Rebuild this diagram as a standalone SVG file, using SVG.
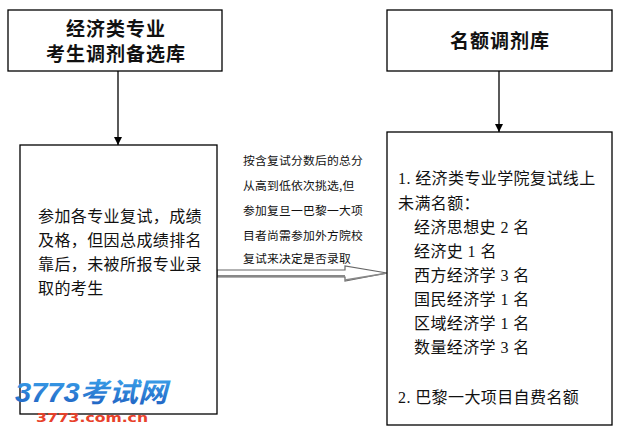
<svg xmlns="http://www.w3.org/2000/svg" width="620" height="440" viewBox="0 0 620 440">
<defs>
<style>
.box{fill:#fff;stroke:#000;stroke-width:1.3}
.title{font-family:"Noto Sans CJK SC","Liberation Sans",sans-serif;font-size:19px;font-weight:bold;fill:#111;text-anchor:middle;letter-spacing:1px}
.body{font-family:"Liberation Serif","Noto Sans CJK SC",serif;font-size:16px;fill:#111;letter-spacing:0.4px}
.note{font-family:"Noto Sans CJK SC","Liberation Sans",sans-serif;font-size:11.8px;fill:#111;letter-spacing:0.2px}
.conn{stroke:#000;stroke-width:1.3;fill:none}
</style>
<marker id="ah" viewBox="0 0 10 10" refX="10" refY="5" markerWidth="8" markerHeight="8" markerUnits="userSpaceOnUse" orient="auto">
<path d="M0,0 L10,5 L0,10 Z" fill="#000"/>
</marker>
<linearGradient id="lg" x1="0" y1="0" x2="0" y2="1">
<stop offset="0" stop-color="#3aa0ea"/>
<stop offset="1" stop-color="#1f5fc0"/>
</linearGradient>
</defs>
<rect width="620" height="440" fill="#fff"/>

<g id="connectors">
<line class="conn" x1="118" y1="71" x2="118" y2="145" marker-end="url(#ah)"/>
<line class="conn" x1="499" y1="71" x2="499" y2="132" marker-end="url(#ah)"/>
<g id="block-arrow">
<polygon points="217,270 345,270 345,266 387,273 345,281 345,277 217,277" fill="#fff" stroke="#666" stroke-width="1.2"/>
<line x1="217" y1="276" x2="345" y2="276" stroke="#888" stroke-width="2"/>
<line x1="345" y1="280" x2="385" y2="273.5" stroke="#888" stroke-width="1.5"/>
</g>
</g>

<g id="node-pool">
<rect class="box" x="8" y="10" width="214" height="61"/>
<text class="title" x="116" y="36">经济类专业</text>
<text class="title" x="116" y="61">考生调剂备选库</text>
</g>

<g id="node-quota">
<rect class="box" x="387" y="10" width="225" height="61"/>
<text class="title" x="500" y="48">名额调剂库</text>
</g>

<g id="node-candidates">
<rect class="box" x="20" y="145" width="197" height="269"/>
<text class="body" x="38" y="222">参加各专业复试，成绩</text>
<text class="body" x="38" y="246">及格，但因总成绩排名</text>
<text class="body" x="38" y="270">靠后，未被所报专业录</text>
<text class="body" x="38" y="294">取的考生</text>
</g>

<g id="node-note">
<text class="note" x="243" y="165">按含复试分数后的总分</text>
<text class="note" x="243" y="190">从高到低依次挑选,但</text>
<text class="note" x="243" y="215">参加复旦一巴黎一大项</text>
<text class="note" x="243" y="240">目者尚需参加外方院校</text>
<text class="note" x="243" y="263">复试来决定是否录取</text>
</g>

<g id="node-places">
<rect class="box" x="387" y="132" width="225" height="293"/>
<text class="body" x="398" y="184">1. 经济类专业学院复试线上</text>
<text class="body" x="398" y="209">未满名额：</text>
<text class="body" x="414" y="233">经济思想史 2 名</text>
<text class="body" x="414" y="257">经济史 1 名</text>
<text class="body" x="414" y="281">西方经济学 3 名</text>
<text class="body" x="414" y="305">国民经济学 1 名</text>
<text class="body" x="414" y="329">区域经济学 1 名</text>
<text class="body" x="414" y="353">数量经济学 3 名</text>
<text class="body" x="398" y="403">2.  巴黎一大项目自费名额</text>
</g>

<g id="watermark">
<text x="15" y="402" font-family="'Liberation Sans','Noto Sans CJK SC',sans-serif" font-size="27" font-weight="bold" font-style="italic" fill="url(#lg)" textLength="152" lengthAdjust="spacingAndGlyphs">3773考试网</text>
<text x="36" y="422" font-family="'DejaVu Sans','Liberation Sans',sans-serif" font-size="13" font-weight="bold" fill="#e8412a" textLength="112" lengthAdjust="spacingAndGlyphs">3773.com.cn</text>
</g>
</svg>
